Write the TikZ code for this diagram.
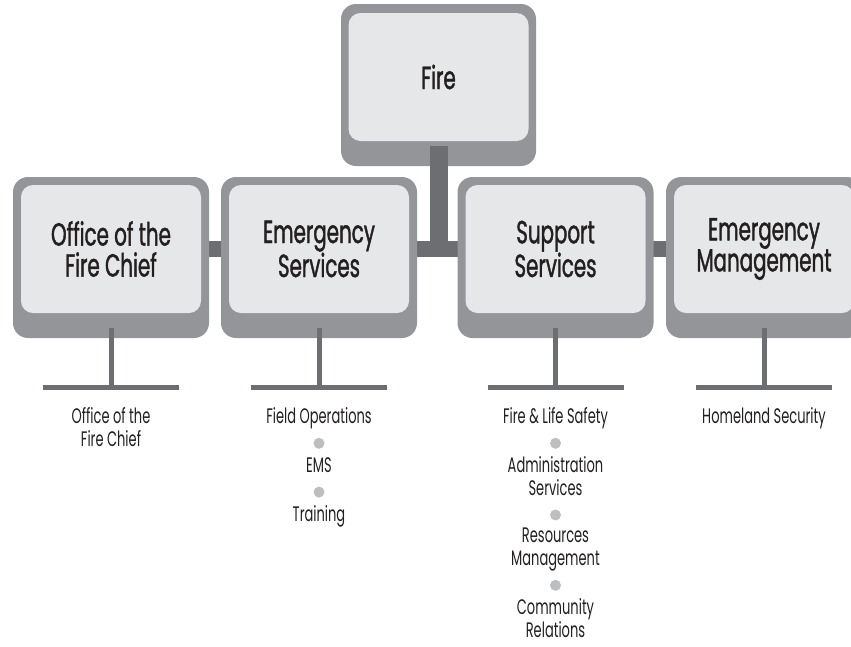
\documentclass[tikz,border=0pt]{standalone}
\usepackage{fontspec}
\setmainfont{Poppins}[FakeStretch=0.62]
\newfontfamily\boxfont{Poppins}[FakeStretch=0.62, FakeBold=1.2]
\usetikzlibrary{positioning,backgrounds}

\definecolor{frame}{HTML}{939598}
\definecolor{panel}{HTML}{E6E7E8}
\definecolor{link}{HTML}{6D6E71}
\definecolor{pipgray}{HTML}{BCBEC0}
\definecolor{ink}{HTML}{231F20}

\tikzset{
  outerbox/.style={fill=frame, rounded corners=15pt, minimum width=196pt, minimum height=161pt, inner sep=0pt},
  innerbox/.style={fill=panel, rounded corners=12pt, minimum width=180pt, minimum height=128pt, inner sep=0pt,
    text=ink, align=center, font=\boxfont\fontsize{32}{31}\selectfont},
  crossbar/.style={draw=link, line width=16pt},
  drop/.style={draw=link, line width=18pt},
  twig/.style={draw=link, line width=5pt},
  subunit/.style={inner sep=0pt, text=ink, align=center, font=\fontsize{21}{23}\selectfont,
    execute at begin node=\strut, execute at end node=\strut},
  pip/.style={circle, fill=pipgray, minimum size=11pt, inner sep=0pt},
}

\begin{document}
\begin{tikzpicture}[x=1pt, y=-1pt]
    \useasboundingbox (0,0) rectangle (851,646);
    \clip (0,0) rectangle (851,646);

    % Top box
    \node[outerbox, minimum width=195pt, minimum height=162pt] (fire) at (438.5,85) {};
    \node[innerbox] (fire-in) at ([yshift=8pt]fire.center) {Fire};

    % Division boxes
    \node[outerbox] (office) at (111,257.5) {};
    \node[innerbox] (office-in) at ([yshift=8.5pt]office.center) {Office of the\\Fire Chief};
    \node[outerbox] (es) at (319,257.5) {};
    \node[innerbox] (es-in) at ([yshift=8.5pt]es.center) {Emergency\\Services};
    \node[outerbox] (ss) at (555.5,257.5) {};
    \node[innerbox] (ss-in) at ([yshift=8.5pt]ss.center) {Support\\Services};
    \node[outerbox] (em) at (764,257.5) {};
    \node[innerbox] (em-in) at ([yshift=8.5pt]em.center) {Emergency\\Management};

    % Links between the boxes
    \begin{scope}[on background layer]
        \draw[crossbar] (office-in) -- (es-in);
        \draw[crossbar] (es-in) -- (ss-in);
        \draw[crossbar] (ss-in) -- (em-in);
    \end{scope}
    \draw[drop] ([yshift=-5pt]fire-in.south) -- (fire-in |- es-in);

    % Branches below the divisions
    \foreach \n in {office, es, ss, em} {
        \draw[twig] ([yshift=10pt]\n.south) -- ++(0,59) coordinate (\n-base);
        \draw[twig] ([xshift=-68pt]\n-base) -- ([xshift=68pt]\n-base);
    }

    % Units
    \node[subunit, below=20pt of office-base] (office-1) {Office of the\\Fire Chief};

    \node[subunit, below=20pt of es-base] (es-1) {Field Operations};
    \node[pip, below=7pt of es-1] (es-d1) {};
    \node[subunit, below=7pt of es-d1] (es-2) {EMS};
    \node[pip, below=7pt of es-2] (es-d2) {};
    \node[subunit, below=7pt of es-d2] (es-3) {Training};

    \node[subunit, below=20pt of ss-base] (ss-1) {Fire \& Life Safety};
    \node[pip, below=7pt of ss-1] (ss-d1) {};
    \node[subunit, below=7pt of ss-d1] (ss-2) {Administration\\Services};
    \node[pip, below=7pt of ss-2] (ss-d2) {};
    \node[subunit, below=7pt of ss-d2] (ss-3) {Resources\\Management};
    \node[pip, below=7pt of ss-3] (ss-d3) {};
    \node[subunit, below=7pt of ss-d3] (ss-4) {Community\\Relations};

    \node[subunit, below=20pt of em-base] (em-1) {Homeland Security};
\end{tikzpicture}
\end{document}
